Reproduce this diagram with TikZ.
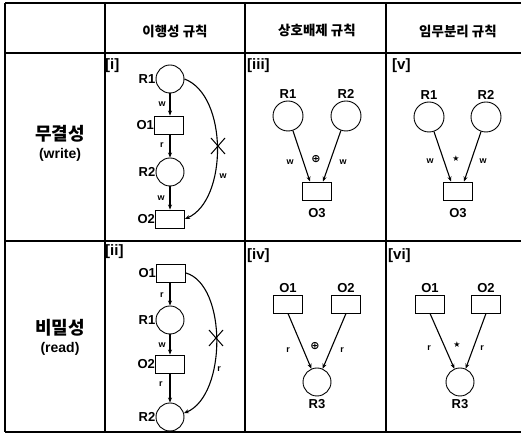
\documentclass[tikz,border=0pt]{standalone}
\usepackage{fontspec}
\setmainfont{Liberation Sans}
\newfontfamily\kr{Noto Sans CJK KR}
\newfontfamily\symf{DejaVu Sans}
\usetikzlibrary{arrows.meta}
\begin{document}
\begin{tikzpicture}[x=1pt,y=-1pt,
  grid/.style={line width=1.2pt},
  place/.style={circle,draw,line width=0.9pt,minimum size=28pt,inner sep=0pt},
  trans/.style={rectangle,draw,line width=0.9pt,minimum width=29pt,minimum height=18pt,inner sep=0pt},
  lbl/.style={font=\bfseries\fontsize{13}{13}\selectfont,inner sep=1pt},
  sm/.style={font=\bfseries\fontsize{9}{9}\selectfont,inner sep=0pt},
  sym/.style={font=\symf\bfseries\fontsize{11}{11}\selectfont,inner sep=0pt},
  star/.style={font=\symf\fontsize{8}{8}\selectfont,inner sep=0pt},
  tag/.style={font=\bfseries\fontsize{15}{15}\selectfont,inner sep=0pt,anchor=north west},
  hdr/.style={font=\kr\bfseries\fontsize{13.5}{13.5}\selectfont,inner sep=0pt},
  rhdr/.style={font=\kr\bfseries\fontsize{18}{18}\selectfont,inner sep=0pt},
  rsub/.style={font=\bfseries\fontsize{14}{14}\selectfont,inner sep=0pt},
  arc/.style={-{Stealth[length=5pt,width=4pt]},line width=1.1pt},
  cross/.style={line width=1pt}]
\useasboundingbox (0,0) rectangle (523,435);
% table
\draw[grid] (5,3) -- (521,3);
\draw[grid] (5,53) -- (521,53);
\draw[grid] (5,241) -- (521,241);
\draw[grid] (5,432) -- (521,432);
\draw[grid] (5,3) -- (5,432);
\draw[grid] (105,3) -- (105,432);
\draw[grid] (245,3) -- (245,432);
\draw[grid] (386,3) -- (386,432);
% headers
\node[hdr] (h1) at (175,31) {이행성 규칙};
\node[hdr] (h2) at (317,30) {상호배제 규칙};
\node[hdr] (h3) at (458,31) {임무분리 규칙};
\node[rhdr] (r1) at (60,134) {무결성};
\node[rsub] (r1s) at (60,155) {(write)};
\node[rhdr] (r2) at (60,328) {비밀성};
\node[rsub] (r2s) at (60,349) {(read)};
% tags
\node[tag] (t1) at (105,58) {[i]};
\node[tag] (t2) at (105,244) {[ii]};
\node[tag] (t3) at (247,58) {[iii]};
\node[tag] (t4) at (247,248) {[iv]};
\node[tag] (t5) at (392,58) {[v]};
\node[tag] (t6) at (388,248) {[vi]};
% [i]
\node[place,label={[lbl,label distance=-1pt]left:R1}] (aR1) at (170,79) {};
\node[trans,label={[lbl,label distance=-1pt]left:O1}] (aO1) at (169,125) {};
\node[place,label={[lbl,label distance=-1pt]left:R2}] (aR2) at (170,172) {};
\node[trans,label={[lbl,label distance=-1pt]left:O2}] (aO2) at (170,219) {};
\draw[arc] (aR1) -- (aO1.north -| aR1);
\draw[arc] (aO1.south -| aR2) -- (aR2);
\draw[arc] (aR2) -- (aO2.north -| aR2);
\draw[arc] (aR1.east) .. controls (228,95) and (228,200) .. (aO2.east);
\draw[cross] (211,138) -- (225,154) (211,154) -- (225,138);
\node[sm] (aw1) at (162,104) {w};
\node[sm] (ar1) at (162,145) {r};
\node[sm] (aw2) at (161,198) {w};
\node[sm] (aw3) at (223,176) {w};
% [ii]
\node[trans,label={[lbl,label distance=-1pt]left:O1}] (bO1) at (171,273) {};
\node[place,label={[lbl,label distance=-1pt]left:R1}] (bR1) at (170,320) {};
\node[trans,label={[lbl,label distance=-1pt]left:O2}] (bO2) at (170,364) {};
\node[place,label={[lbl,label distance=-1pt]left:R2}] (bR2) at (170,417) {};
\draw[arc] (bO1.south -| bR1) -- (bR1);
\draw[arc] (bR1) -- (bO2.north -| bR1);
\draw[arc] (bO2.south -| bR2) -- (bR2);
\draw[arc] (bO1.east) .. controls (227,285) and (227,395) .. (bR2.15);
\draw[cross] (209,330) -- (223,346) (209,346) -- (223,330);
\node[sm] (br1) at (162,295) {r};
\node[sm] (bw1) at (162,345) {w};
\node[sm] (br2) at (161,384) {r};
\node[sm] (br3) at (219,369) {r};
% [iii]
\node[place,minimum size=30pt,label={[lbl,label distance=1pt]above:R1}] (cR1) at (288,116) {};
\node[place,minimum size=30pt,label={[lbl,label distance=1pt]above:R2}] (cR2) at (346,116) {};
\node[trans,label={[lbl,label distance=7pt]below:O3}] (cO3) at (317,191) {};
\draw[arc] (cR1) -- ([xshift=-7pt]cO3.north);
\draw[arc] (cR2) -- ([xshift=6pt]cO3.north);
\node[sm] (cw1) at (290,162) {w};
\node[sm] (cw2) at (343,162) {w};
\node[sym] (cop) at (316,159) {⊕};
% [v]
\node[place,minimum size=30pt,label={[lbl,label distance=1pt]above:R1}] (eR1) at (429,117) {};
\node[place,minimum size=30pt,label={[lbl,label distance=1pt]above:R2}] (eR2) at (486,117) {};
\node[trans,label={[lbl,label distance=7pt]below:O3}] (eO3) at (458,191) {};
\draw[arc] (eR1) -- ([xshift=-7pt]eO3.north);
\draw[arc] (eR2) -- ([xshift=6pt]eO3.north);
\node[sm] (ew1) at (430,161) {w};
\node[sm] (ew2) at (483,161) {w};
\node[star] (est) at (456,159) {★};
% [iv]
\node[trans,label={[lbl,label distance=1pt]above:O1}] (dO1) at (288,304) {};
\node[trans,label={[lbl,label distance=1pt]above:O2}] (dO2) at (346,304) {};
\node[place,label={[lbl,label distance=2pt]below:R3}] (dR3) at (317,382) {};
\draw[arc] (dO1.south) -- (dR3.113);
\draw[arc] (dO2.south) -- (dR3.67);
\node[sm] (dr1) at (288,350) {r};
\node[sm] (dr2) at (342,350) {r};
\node[sym] (dop) at (315,346) {⊕};
% [vi]
\node[trans,label={[lbl,label distance=1pt]above:O1}] (fO1) at (430,304) {};
\node[trans,label={[lbl,label distance=1pt]above:O2}] (fO2) at (486,304) {};
\node[place,label={[lbl,label distance=2pt]below:R3}] (fR3) at (460,382) {};
\draw[arc] (fO1.south) -- (fR3.113);
\draw[arc] (fO2.south) -- (fR3.67);
\node[sm] (fr1) at (429,348) {r};
\node[sm] (fr2) at (482,348) {r};
\node[star] (fst) at (457,345) {★};
\end{tikzpicture}
\end{document}
